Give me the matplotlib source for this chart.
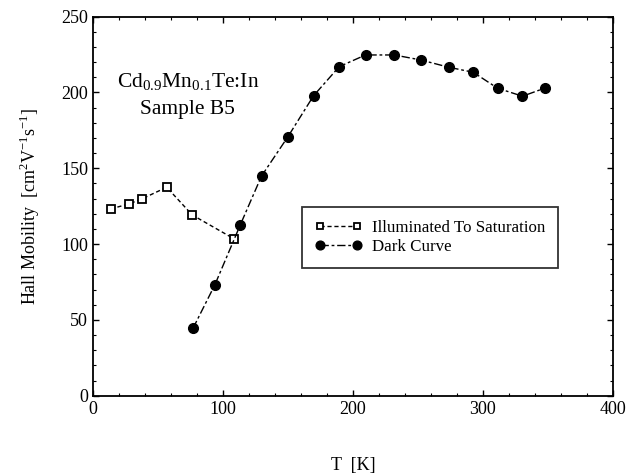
import numpy as np
import matplotlib.pyplot as plt
from matplotlib.ticker import MultipleLocator

plt.rcParams['font.family'] = ['Liberation Serif', 'DejaVu Serif']
plt.rcParams['mathtext.fontset'] = 'custom'
plt.rcParams['mathtext.rm'] = 'Liberation Serif'

# Illuminated to saturation
T_ill = [13.6, 27.7, 37.4, 56.7, 76.4, 108.7]
mu_ill = [123.2, 126.5, 129.7, 137.5, 119.2, 103.4]

# Dark curve
T_dark = [76.9, 93.8, 113.3, 129.7, 149.7, 169.8, 189.5, 209.7, 231.8,
          252.3, 273.8, 292.6, 311.3, 330.5, 348.2]
mu_dark = [44.4, 73.2, 112.6, 144.9, 170.4, 197.9, 217.0, 224.7, 224.7,
           221.4, 216.6, 213.3, 202.8, 197.5, 203.0]

fig = plt.figure(figsize=(6.37, 4.74), dpi=100)
ax = fig.add_axes([0.146, 0.165, 0.816, 0.8])

ax.plot(T_ill, mu_ill, color='black', linestyle=(0, (3, 2)), linewidth=1.0,
        marker='s', markersize=5.5, markerfacecolor='white', markeredgewidth=1.3,
        label='Illuminated To Saturation')
ax.plot(T_dark, mu_dark, color='black', linestyle=(0, (6, 2, 2, 2)), linewidth=1.0,
        marker='o', markersize=7, markerfacecolor='black',
        label='Dark Curve')

ax.set_xlim(0, 400)
ax.set_ylim(0, 250)
ax.xaxis.set_major_locator(MultipleLocator(100))
ax.xaxis.set_minor_locator(MultipleLocator(20))
ax.yaxis.set_major_locator(MultipleLocator(50))
ax.yaxis.set_minor_locator(MultipleLocator(10))
ax.tick_params(which='both', direction='in', top=True, right=True, labelsize=13)
ax.tick_params(which='major', length=4, width=1)
ax.tick_params(which='minor', length=2.5, width=0.8)
for s in ax.spines.values():
    s.set_linewidth(1.3)

ax.set_xlabel('T  [K]', fontsize=13, labelpad=28)
ax.set_ylabel('Hall Mobility  [cm$^2$V$^{-1}$s$^{-1}$]', fontsize=13, labelpad=14)

ax.text(73, 207, 'Cd$_{0.9}$Mn$_{0.1}$Te:In', fontsize=15.5, ha='center', va='center')
ax.text(73, 188.5, 'Sample B5', fontsize=15.5, ha='center', va='center')

leg = ax.legend(loc='upper left', bbox_to_anchor=(0.402, 0.498), borderaxespad=0,
                numpoints=2, fontsize=12.2, frameon=True, fancybox=False,
                edgecolor='black', handlelength=2.8, handletextpad=0.6,
                borderpad=0.75, labelspacing=0.2, markerscale=0.9)
leg.get_frame().set_linewidth(1.3)

fig.savefig('out.png', dpi=100)
